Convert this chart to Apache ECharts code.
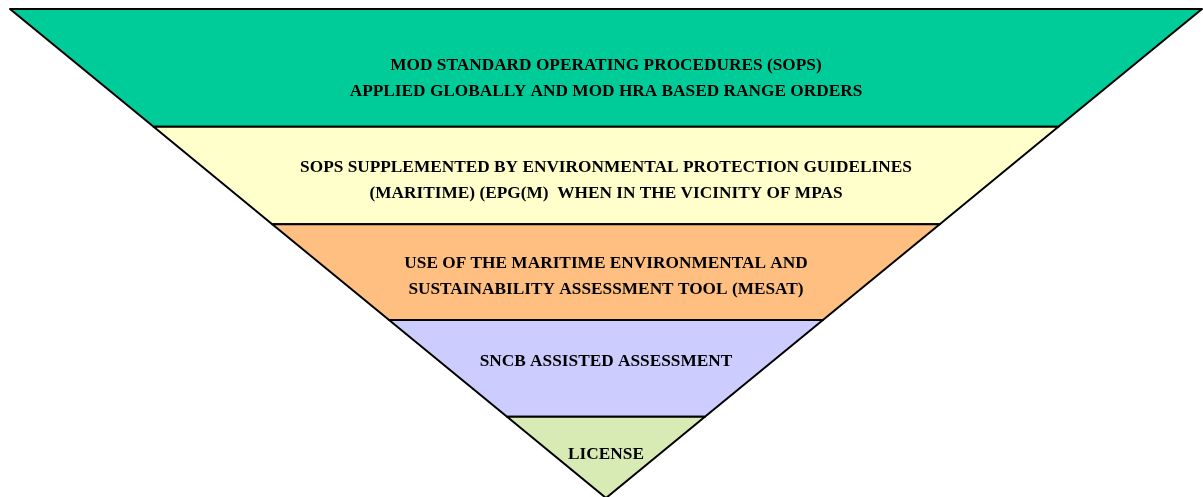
<!DOCTYPE html>
<html>
<head>
<meta charset="utf-8">
<script src="https://cdn.jsdelivr.net/npm/echarts@6/dist/echarts.min.js"></script>
<style>
  html, body { margin: 0; padding: 0; background: #fff; }
  #div1 { width: 1203px; height: 497px; }
</style>
</head>
<body>
<div id="div1"></div>
<script>
// layers of the inverted pyramid, top to bottom
var layers = [
	'MOD STANDARD OPERATING PROCEDURES (SOPS)\nAPPLIED GLOBALLY AND MOD HRA BASED RANGE ORDERS',
	'SOPS SUPPLEMENTED BY ENVIRONMENTAL PROTECTION GUIDELINES\n(MARITIME) (EPG(M)  WHEN IN THE VICINITY OF MPAS',
	'USE OF THE MARITIME ENVIRONMENTAL AND\nSUSTAINABILITY ASSESSMENT TOOL (MESAT)',
	'SNCB ASSISTED ASSESSMENT',
	'LICENSE'
];
// relative width of each layer at its top edge
var widths = [100, 75.9, 56, 36.4, 16.6];
var colors = ['#00CC99', '#FFFFCC', '#FFBF80', '#CCCCFF', '#D9EBB4'];
// small vertical nudges for the labels (px, + = down)
var nudge = [11, 5, 4, -7, -3];

var chart = echarts.init(document.getElementById('div1'));

var items = layers.map(function (name, i) {
	var next = i + 1 < widths.length ? widths[i + 1] : 0;
	return {
		name: name,
		value: widths[i],
		itemStyle: {
			color: colors[i],
			// straight sides: height follows the width step
			height: (widths[i] - next) + '%'
		}
	};
});

// spacer lines in rich text push the label block up or down
var rich = {
	t: {
		color: '#000',
		fontFamily: 'Liberation Serif',
		fontWeight: 'bold',
		fontSize: 17.3,
		lineHeight: 26
	}
};
nudge.forEach(function (n, i) {
	rich['g' + i] = { fontSize: 1, lineHeight: Math.abs(n) * 2 };
});

chart.setOption({
	animation: false,
	series: [{
		type: 'funnel',
		left: 10,
		top: 9,
		width: 1192,
		height: 489,
		min: 0,
		max: 100,
		minSize: '0%',
		maxSize: '100%',
		sort: 'none',
		gap: 0,
		funnelAlign: 'center',
		itemStyle: {
			borderColor: '#000',
			borderWidth: 2
		},
		label: {
			show: true,
			position: 'inside',
			align: 'center',
			formatter: function (p) {
				var i = p.dataIndex;
				var body = p.name.split('\n').map(function (l) {
					return '{t|' + l + '}';
				}).join('\n');
				var gap = '{g' + i + '| }';
				return nudge[i] > 0 ? gap + '\n' + body : body + '\n' + gap;
			},
			rich: rich
		},
		labelLine: { show: false },
		emphasis: { disabled: true },
		data: items
	}]
});
</script>
</body>
</html>
